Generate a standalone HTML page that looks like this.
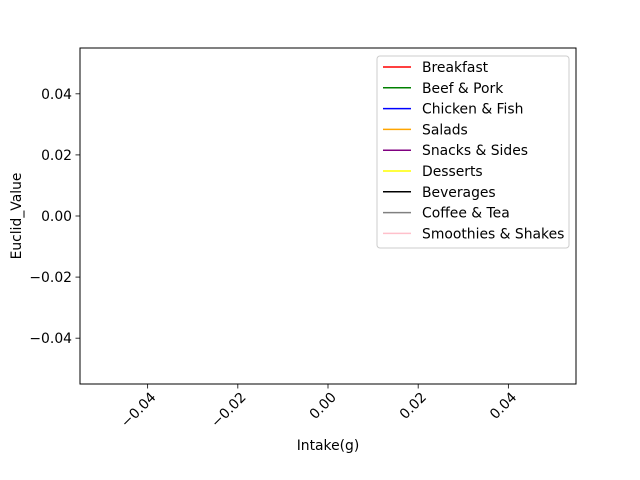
<!DOCTYPE html>
<html><head><meta charset="utf-8"><style>
html,body{margin:0;padding:0;background:#fff;}
svg{display:block;font-family:"DejaVu Sans","Liberation Sans",sans-serif;}
</style></head><body>
<svg id="chart" width="640" height="480" xmlns="http://www.w3.org/2000/svg">
<rect width="640" height="480" fill="#fff"/>
<g id="marks"></g>
<rect x="80" y="48" width="496" height="336" fill="none" stroke="#000" stroke-width="1"/>
<g id="xticks"></g>
<g id="yticks"></g>
<text x="328" y="450" font-size="13.9" text-anchor="middle">Intake(g)</text>
<text x="0" y="0" font-size="13.9" text-anchor="middle" transform="translate(21,216) rotate(-90)">Euclid_Value</text>
<g id="legend"></g>
</svg>
<script>
const categories = ["Breakfast","Beef & Pork","Chicken & Fish","Salads","Snacks & Sides","Desserts","Beverages","Coffee & Tea","Smoothies & Shakes"];
const colors = ["red","green","blue","orange","purple","yellow","black","gray","pink"];
const xValues = [];
const seriesValues = [[],[],[],[],[],[],[],[],[]];
const xTicks = [-0.04,-0.02,0.00,0.02,0.04];
const xTickLabels = ["\u22120.04","\u22120.02","0.00","0.02","0.04"];
const yTicks = [0.04,0.02,0.00,-0.02,-0.04];
const yTickLabels = ["0.04","0.02","0.00","\u22120.02","\u22120.04"];

const NS="http://www.w3.org/2000/svg";
const X0=80,X1=576,Y0=48,Y1=384,DMIN=-0.055,DMAX=0.055;
function xs(v){return X0+(v-DMIN)/(DMAX-DMIN)*(X1-X0);}
function ys(v){return Y1-(v-DMIN)/(DMAX-DMIN)*(Y1-Y0);}
function mk(tag,attrs,parent){const e=document.createElementNS(NS,tag);for(const k in attrs)e.setAttribute(k,attrs[k]);parent.appendChild(e);return e;}

const xg=document.getElementById('xticks');
xTicks.forEach((t,i)=>{
  const x=xs(t);
  const l=mk('line',{x1:x,x2:x,y1:384,y2:388.5,stroke:'#000','stroke-width':0.8},xg);
  
  
  const tx=mk('text',{x:x+9,y:398,'font-size':13.9,'text-anchor':'end',transform:`rotate(-45 ${x+9} 398)`},xg);
  tx.textContent=xTickLabels[i];
  
  
});
const yg=document.getElementById('yticks');
yTicks.forEach((t,i)=>{
  const y=ys(t);
  const l=mk('line',{x1:75.5,x2:80,y1:y,y2:y,stroke:'#000','stroke-width':0.8},yg);
  
  
  const tx=mk('text',{x:72,y:y+5,'font-size':13.9,'text-anchor':'end'},yg);
  tx.textContent=yTickLabels[i];
  
  
});
const mg=document.getElementById('marks');
seriesValues.forEach((s,i)=>{
  if(!s.length)return;
  const pts=s.map((v,j)=>xs(xValues[j])+','+ys(v)).join(' ');
  const p=mk('polyline',{points:pts,fill:'none',stroke:colors[i],'stroke-width':1.5},mg);
  
  
});
const lg=document.getElementById('legend');
const box=mk('rect',{x:377,y:56,width:192,height:192,rx:3,fill:'#fff','fill-opacity':0.8,stroke:'#ccc','stroke-width':1},lg);


categories.forEach((c,i)=>{
  const y=67+i*20.8;
  const l=mk('line',{x1:383,x2:411,y1:y,y2:y,stroke:colors[i],'stroke-width':1.5},lg);
  
  
  const t=mk('text',{x:422,y:y+5,'font-size':13.9},lg);
  t.textContent=c;
  
  
});
</script>
</body></html>
